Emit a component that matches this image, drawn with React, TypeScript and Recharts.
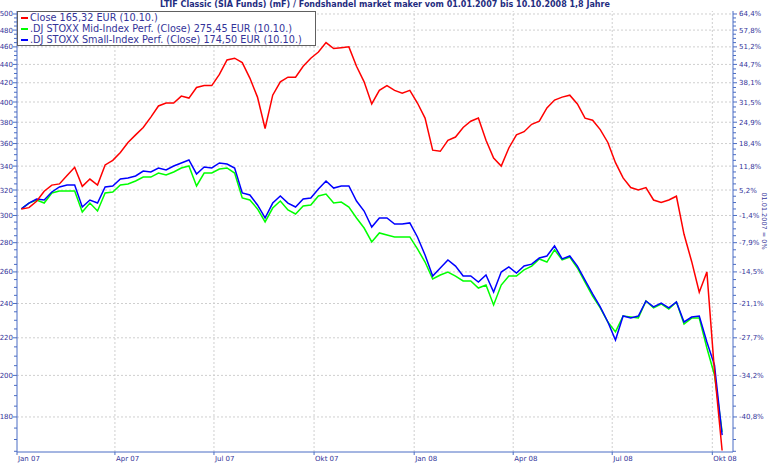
import { LineChart, Line, XAxis, YAxis, ReferenceLine } from 'recharts';

// weekly closes (Fridays), day offsets from 01.01.2007
const weekDays = Array.from({ length: 93 }, (_, i) => 4 + 7 * i);

const ltifClose = [
  305, 306, 311, 319, 324, 325, 332, 339, 323, 329,
  324, 341, 345, 352, 361, 368, 375, 385, 396, 399,
  399, 406, 404, 415, 417, 417, 429, 445, 447, 442,
  425, 405, 374, 407, 421, 426, 426, 438, 447, 454,
  465, 458, 459, 460, 438, 421, 398, 412, 417, 412,
  409, 412, 399, 384, 354, 353, 363, 366, 375, 381,
  384, 363, 347, 340, 356, 368, 371, 378, 381, 394,
  402, 405, 407, 398, 384, 382, 373, 361, 343, 330,
  322, 320, 322, 312, 310, 312, 315, 286, 267, 247,
  260, 202, 165.32,
];

const stoxxMid = [
  305, 309.6, 312.0, 309.6, 317.6, 319.2, 319.2, 319.2, 302.7, 309.6,
  303.4, 317.6, 318.4, 324.1, 324.9, 327.4, 330.7, 330.7, 334.1, 332.4,
  335.0, 338.4, 340.1, 323.3, 334.1, 334.1, 337.5, 338.4, 334.1, 313.6,
  312.0, 305.0, 295.1, 305.7, 311.2, 304.2, 301.1, 307.3, 308.1, 315.2,
  316.8, 309.6, 310.4, 306.5, 298.1, 290.6, 280.5, 287.0, 285.5, 284.1,
  284.1, 284.1, 275.6, 266.6, 255.4, 258.0, 259.9, 257.3, 254.1, 254.1,
  249.6, 251.5, 239.1, 251.5, 257.3, 257.3, 261.3, 263.9, 268.7, 266.6,
  275.0, 268.0, 270.0, 262.6, 253.4, 244.6, 237.3, 229.0, 223.3, 232.5,
  231.9, 231.3, 241.5, 237.3, 239.7, 236.7, 240.9, 227.8, 231.3, 231.3,
  214.4, 200.2, 173.3,
];

const stoxxSmall = [
  305, 309.6, 312.8, 312.0, 318.4, 322.5, 324.1, 324.1, 306.5, 312.0,
  309.6, 322.5, 323.3, 329.1, 329.9, 331.6, 335.8, 335.0, 338.4, 336.7,
  340.1, 342.7, 345.3, 333.3, 339.2, 338.4, 342.7, 341.8, 338.4, 317.6,
  316.0, 308.1, 298.1, 309.6, 315.2, 309.6, 306.5, 312.8, 313.6, 320.8,
  327.4, 321.6, 323.3, 323.3, 311.2, 303.4, 291.3, 298.1, 298.1, 293.6,
  293.6, 294.4, 284.1, 271.4, 257.3, 262.6, 268.0, 263.9, 257.3, 257.3,
  253.4, 258.0, 247.1, 259.9, 263.3, 259.3, 263.9, 265.2, 269.3, 270.7,
  277.7, 268.7, 270.7, 263.9, 254.7, 245.9, 237.9, 229.0, 218.8, 232.5,
  231.3, 232.5, 241.5, 237.9, 240.3, 237.3, 240.9, 229.0, 231.9, 232.5,
  217.7, 205.3, 171.9,
];

const monthTicks = [0, 90, 181, 273, 365, 456, 547, 639];
const monthLabels = ['Jan 07', 'Apr 07', 'Jul 07', 'Okt 07', 'Jan 08', 'Apr 08', 'Jul 08', 'Okt 08'];
const eurTicks = [180, 200, 220, 240, 260, 280, 300, 320, 340, 360, 380, 400, 420, 440, 460, 480, 500];
const minorTicks = Array.from({ length: 68 }, (_, i) => 165 + 5 * i);

const BASE = 304.15; // 01.01.2007 = 0%
const FONT = '"DejaVu Sans", Verdana, sans-serif';
const TEXT = '#333399';
const AXIS = '#4a6cc4';
const GRID = '#cfcfcf';

const data = weekDays.map((day, i) => ({
  day,
  close: ltifClose[i],
  mid: stoxxMid[i],
  small: stoxxSmall[i],
}));

const pct = (v: number) => ((v / BASE - 1) * 100).toFixed(1).replace('.', ',') + '%';

const LeftTick = ({ x, y, payload }: any) => {
  const major = payload.value % 20 === 0;
  return (
    <g>
      <line x1={x - (major ? 4 : 3)} x2={x} y1={y} y2={y} stroke={AXIS} />
      {major && (
        <text x={x - 4} y={y + 2.5} textAnchor="end" fontSize={7} fontFamily={FONT} fill={TEXT}>
          {payload.value}
        </text>
      )}
    </g>
  );
};

const RightTick = ({ x, y, payload }: any) => {
  const major = payload.value % 20 === 0;
  return (
    <g>
      <line x1={x} x2={x + (major ? 4 : 3)} y1={y} y2={y} stroke={AXIS} />
      {major && (
        <text x={x + 6} y={y + 2.5} textAnchor="start" fontSize={7} fontFamily={FONT} fill={TEXT}>
          {pct(payload.value)}
        </text>
      )}
    </g>
  );
};

const BottomTick = ({ x, y, payload }: any) => {
  const idx = monthTicks.indexOf(payload.value);
  return (
    <g>
      <line x1={x} x2={x} y1={y} y2={y + 3} stroke={AXIS} />
      <text x={x + 1} y={y + 9} textAnchor="start" fontSize={7} fontFamily={FONT} fill={TEXT}>
        {monthLabels[idx]}
      </text>
    </g>
  );
};

const legendRows = [
  { color: '#ff0000', label: 'Close 165,32 EUR (10.10.)' },
  { color: '#00ff00', label: '.DJ STOXX Mid-Index Perf. (Close) 275,45 EUR (10.10.)' },
  { color: '#0000ff', label: '.DJ STOXX Small-Index Perf. (Close) 174,50 EUR (10.10.)' },
];

export default function App() {
  return (
    <div style={{ position: 'relative', width: 770, height: 463, background: '#fff' }}>
      <style>{'body{margin:0}'}</style>
      <div
        style={{
          position: 'absolute', left: 0, top: 0, width: 770, textAlign: 'center',
          fontFamily: FONT, fontSize: 8, fontWeight: 'bold', color: '#1f2d80', lineHeight: '10px',
        }}
      >
        LTIF Classic (SIA Funds) (mF) / Fondshandel market maker vom 01.01.2007 bis 10.10.2008 1,8 Jahre
      </div>
      <LineChart width={770} height={463} data={data} margin={{ top: 11, right: 0, bottom: 0, left: 0 }}>
        <XAxis
          dataKey="day"
          type="number"
          domain={[0, 658]}
          ticks={monthTicks}
          interval={0}
          tickSize={0}
          tickMargin={0}
          height={11}
          stroke={AXIS}
          tick={<BottomTick />}
        />
        <YAxis
          yAxisId="left"
          scale="log"
          type="number"
          domain={[164.7, 503.8]}
          allowDataOverflow
          ticks={minorTicks}
          interval={0}
          width={17}
          tickSize={0}
          tickMargin={0}
          stroke={AXIS}
          tick={<LeftTick />}
        />
        <YAxis
          yAxisId="right"
          orientation="right"
          scale="log"
          type="number"
          domain={[164.7, 503.8]}
          allowDataOverflow
          ticks={minorTicks}
          interval={0}
          width={37}
          tickSize={0}
          tickMargin={0}
          stroke={AXIS}
          tick={<RightTick />}
        />
        {eurTicks.map((v) => (
          <ReferenceLine key={'h' + v} yAxisId="left" y={v} stroke={GRID} strokeDasharray="2 2" />
        ))}
        {monthTicks.slice(1).map((d) => (
          <ReferenceLine key={'v' + d} yAxisId="left" x={d} stroke={GRID} strokeDasharray="2 2" />
        ))}
        <Line yAxisId="left" dataKey="mid" stroke="#00ff00" strokeWidth={1.5} dot={false} isAnimationActive={false} />
        <Line yAxisId="left" dataKey="small" stroke="#0000ff" strokeWidth={1.5} dot={false} isAnimationActive={false} />
        <Line yAxisId="left" dataKey="close" stroke="#ff0000" strokeWidth={1.5} dot={false} isAnimationActive={false} />
      </LineChart>
      <div
        style={{
          position: 'absolute', left: 17, top: 11, width: 297, height: 33, border: '1px solid #606060',
          background: '#fff', fontFamily: FONT, fontSize: 9.7, color: TEXT, lineHeight: '11px',
        }}
      >
        {legendRows.map((r) => (
          <div key={r.label} style={{ display: 'flex', alignItems: 'center', whiteSpace: 'nowrap' }}>
            <span style={{ display: 'inline-block', width: 7, height: 2, background: r.color, margin: '0 2px 0 3px' }} />
            <span>{r.label}</span>
          </div>
        ))}
      </div>
      <div
        style={{
          position: 'absolute', left: 764, top: 221, transform: 'translate(-50%, -50%) rotate(90deg)',
          fontFamily: FONT, fontSize: 6.5, color: TEXT, whiteSpace: 'nowrap',
        }}
      >
        01.01.2007 = 0%
      </div>
    </div>
  );
}
